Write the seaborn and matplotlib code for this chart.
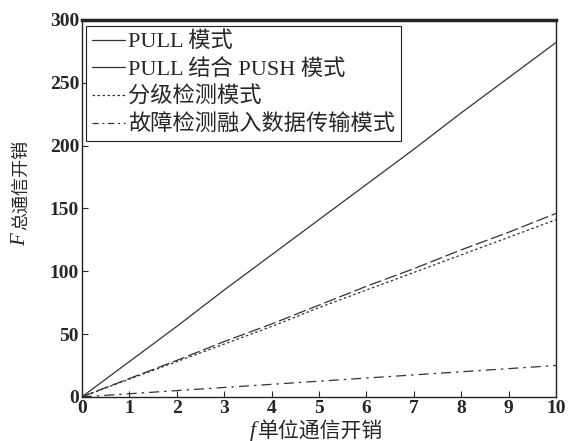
import numpy as np
import pandas as pd
import seaborn as sns
import matplotlib.pyplot as plt
from matplotlib.lines import Line2D

# data
f_unit = [0, 1, 2, 3, 4, 5, 6, 7, 8, 9, 10]
pull = [0, 28, 56, 85, 113, 141, 169, 197, 226, 254, 282]
pull_push = [0, 14.6, 29, 44, 58, 73, 88, 102, 117, 131, 146]
graded = [0, 14.1, 28, 42, 56, 71, 85, 99, 113, 127, 141]
fault_fused = [0, 2.5, 5, 7.5, 10, 12.5, 15, 17.5, 20, 22.5, 25]
names = ["PULL 模式", "PULL 结合 PUSH 模式", "分级检测模式", "故障检测融入数据传输模式"]

sns.set_style("ticks")
plt.rcParams['font.family'] = ['Liberation Serif', 'Noto Sans CJK SC', 'DejaVu Sans']

W, H = 568, 441
fig = plt.figure(figsize=(W / 100, H / 100), dpi=100)
ax = fig.add_axes([0.144, 0.10, 0.835, 0.855])

col = "#333333"
sns.lineplot(x=f_unit, y=pull, ax=ax, color=col, lw=0.9, linestyle="-")
sns.lineplot(x=f_unit, y=pull_push, ax=ax, color=col, lw=0.9, linestyle=(0, (10, 3)))
sns.lineplot(x=f_unit, y=graded, ax=ax, color=col, lw=0.9, linestyle=(0, (2, 2)))
sns.lineplot(x=f_unit, y=fault_fused, ax=ax, color=col, lw=0.9, linestyle=(0, (8, 4, 2, 4)))

ax.set_xlim(0, 10)
ax.set_ylim(0, 300)
ax.set_xticks(range(0, 11))
ax.set_yticks(range(0, 301, 50))
ax.tick_params(direction="in", length=4, width=0.8, labelsize=14, top=False, right=False, pad=2)
for lab in ax.get_xticklabels() + ax.get_yticklabels():
    lab.set_fontweight("bold")
for s in ax.spines.values():
    s.set_linewidth(1.0)
    s.set_color("#222222")
ax.spines["top"].set_linewidth(2.5)
ax.set_xlabel("")
ax.set_ylabel("")

# axis labels: italic serif letter + CJK text, built from two text pieces
cjk = ['Noto Sans CJK SC', 'DejaVu Sans']
xl = fig.text(258 / W, 1 - 431 / H, "单位通信开销", family=cjk, fontsize=15,
              ha="left", va="center")
yl = fig.text(21 / W, 1 - 140 / H, "总通信开销", family=cjk, fontsize=13,
              rotation=90, ha="center", va="top")
fig.canvas.draw()
r = fig.canvas.get_renderer()
bx = xl.get_window_extent(r)
by = yl.get_window_extent(r)
fig.text((bx.x0 - 2) / W, 1 - 431 / H, "f", family="Liberation Serif", style="italic",
         fontsize=16, ha="right", va="center")
fig.text(21 / W, (by.y0 - 3) / H, "F", family="Liberation Serif", style="italic",
         fontsize=15, rotation=90, ha="center", va="top")

handles = [
    Line2D([], [], color=col, lw=0.9, linestyle="-"),
    Line2D([], [], color=col, lw=0.9, linestyle="-"),
    Line2D([], [], color=col, lw=0.9, linestyle=(0, (2, 2))),
    Line2D([], [], color=col, lw=0.9, linestyle=(0, (5, 3, 1.5, 3))),
]
leg = ax.legend(handles, names, loc="upper left", fontsize=16, handlelength=1.5,
                handletextpad=0.15, labelspacing=0.3, borderpad=0.25,
                fancybox=False, framealpha=1, edgecolor="#222222",
                bbox_to_anchor=(0.0, 0.995), borderaxespad=0.2)
leg.get_frame().set_linewidth(0.8)

fig.savefig("out.png", dpi=100)
